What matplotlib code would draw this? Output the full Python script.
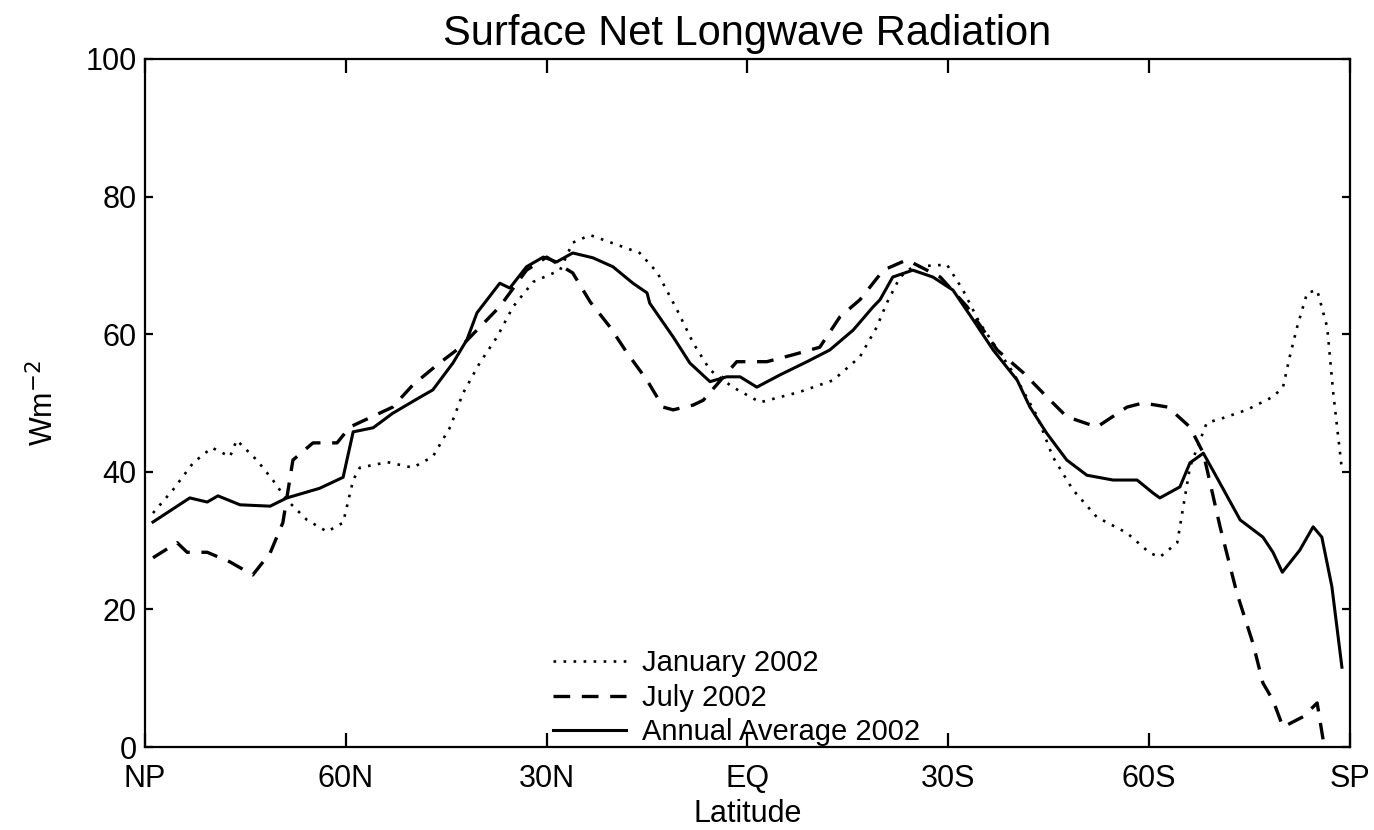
import matplotlib
matplotlib.use("Agg")
import matplotlib.pyplot as plt
import numpy as np

plt.rcParams['font.family'] = ['Liberation Sans', 'DejaVu Sans']

# Latitud (grados, + norte / - sur) y flujo neto de onda larga (W m-2)
lat_annual = [88.8, 83.3, 80.7, 79.1, 75.8, 71.3, 68.8, 63.9, 60.4, 58.9, 55.9, 53.0,
              49.5, 47.0, 44.0, 41.9, 40.4, 37.0, 35.5, 33.0, 30.5, 28.5, 26.1, 23.1,
              20.1, 17.1, 15.0, 14.6, 11.1, 8.6, 5.6, 3.1, 1.1, -1.4, -4.9, -8.9,
              -12.3, -15.8, -18.8, -19.8, -21.7, -24.7, -27.7, -30.7, -33.7, -36.7,
              -40.3, -42.2, -44.7, -47.7, -50.7, -54.6, -58.2, -60.6, -61.6, -64.6,
              -66.1, -68.1, -70.1, -73.6, -77.0, -78.5, -79.9, -82.5, -84.5, -85.8,
              -87.3, -88.8]
val_annual = [32.7, 36.2, 35.6, 36.5, 35.2, 35.0, 36.2, 37.6, 39.2, 45.8, 46.4, 48.5,
              50.5, 51.9, 55.8, 59.2, 63.1, 67.4, 66.7, 69.8, 71.2, 70.5, 71.8, 71.1,
              69.8, 67.4, 66.0, 64.5, 59.6, 55.8, 53.1, 53.8, 53.8, 52.3, 54.1, 56.0,
              57.7, 60.6, 64.0, 65.0, 68.3, 69.3, 68.3, 66.4, 62.1, 57.7, 53.3, 49.4,
              45.6, 41.7, 39.5, 38.8, 38.8, 36.9, 36.2, 37.8, 41.3, 42.7, 39.2, 33.0,
              30.5, 28.3, 25.4, 28.6, 32.0, 30.5, 23.3, 11.6]

lat_july = [88.8, 85.2, 83.7, 80.7, 77.3, 73.9, 71.3, 69.4, 67.9, 64.9, 61.3, 59.4,
            53.0, 50.0, 46.4, 42.9, 40.4, 37.0, 33.0, 30.0, 26.1, 23.5, 20.5, 18.0,
            15.0, 12.6, 11.1, 8.1, 6.6, 1.6, -2.9, -6.8, -10.8, -13.8, -16.8, -20.3,
            -23.8, -28.8, -32.8, -37.3, -41.2, -44.7, -47.7, -52.2, -56.7, -59.1,
            -62.8, -66.1, -68.1, -70.6, -73.1, -75.5, -77.0, -78.5, -80.0, -83.0,
            -85.1, -86.0, -86.6]
val_july = [27.5, 29.7, 28.3, 28.3, 26.9, 25.0, 28.2, 32.6, 41.7, 44.2, 44.2, 46.5,
            49.4, 52.6, 55.5, 58.1, 60.6, 64.0, 69.3, 71.2, 68.9, 64.7, 61.0, 57.3,
            53.3, 49.4, 49.0, 49.7, 50.4, 56.0, 56.0, 57.0, 58.1, 62.5, 65.0, 69.3,
            70.8, 68.3, 64.0, 57.7, 54.4, 50.9, 48.0, 46.5, 49.4, 50.0, 49.4, 46.5,
            42.7, 32.0, 22.4, 15.1, 9.3, 6.8, 2.9, 4.4, 6.4, 1.0, -3.0]

lat_jan = [88.8, 85.8, 82.8, 80.0, 77.3, 76.3, 73.3, 70.9, 68.8, 65.8, 62.8, 60.4,
           58.9, 57.9, 53.8, 50.0, 47.0, 44.4, 42.5, 40.0, 37.4, 35.0, 32.0, 28.0,
           26.1, 23.5, 19.5, 16.1, 13.5, 10.5, 8.1, 5.6, 2.2, -1.9, -7.8, -12.8,
           -16.8, -19.3, -20.8, -22.8, -24.7, -29.8, -32.2, -34.7, -39.7, -43.3,
           -45.6, -48.6, -52.2, -56.7, -60.1, -61.6, -64.2, -65.1, -66.1, -68.6,
           -71.0, -74.6, -78.5, -80.0, -81.0, -82.1, -83.6, -85.1, -86.6, -87.5,
           -88.8]
val_jan = [34.0, 37.4, 41.3, 43.5, 42.2, 44.6, 41.7, 38.8, 35.9, 33.0, 31.3, 32.6,
           38.8, 40.6, 41.4, 40.6, 42.2, 46.5, 51.4, 55.8, 59.6, 64.0, 67.6, 69.3,
           73.3, 74.4, 73.0, 71.8, 69.0, 63.5, 58.7, 54.8, 52.3, 50.1, 51.6, 53.3,
           56.7, 61.0, 64.5, 68.3, 69.8, 70.1, 66.4, 61.6, 54.4, 48.0, 42.2, 37.4,
           33.4, 31.1, 28.2, 27.6, 29.7, 34.9, 40.7, 47.1, 47.8, 49.0, 50.9, 52.3,
           56.7, 61.0, 66.0, 66.4, 61.0, 51.5, 40.3]

tick_lat = [90, 60, 30, 0, -30, -60, -90]
tick_names = ['NP', '60N', '30N', 'EQ', '30S', '60S', 'SP']
y_ticks = [0, 20, 40, 60, 80, 100]

fig = plt.figure(figsize=(13.74, 8.30), dpi=100)
ax = fig.add_axes([0.1055, 0.1, 0.877, 0.829])

ax.plot(lat_jan, val_jan, color='black', lw=1.9, linestyle=(0, (1, 2.8)),
        label='January 2002')
ax.plot(lat_july, val_july, color='black', lw=2.4, linestyle=(0, (5, 3.5)),
        label='July 2002')
ax.plot(lat_annual, val_annual, color='black', lw=2.2, linestyle='-',
        label='Annual Average 2002')

ax.set_xlim(90, -90)
ax.set_ylim(0, 100)
ax.set_xticks(tick_lat)
ax.set_xticklabels(tick_names)
ax.set_yticks(y_ticks)

for s in ax.spines.values():
    s.set_linewidth(1.6)
ax.tick_params(axis='both', direction='in', top=True, right=True,
               labelsize=22, width=1.6)
ax.tick_params(axis='x', length=10, pad=12)
ax.tick_params(axis='y', length=6, pad=6)

ax.set_title('Surface Net Longwave Radiation', fontsize=30, pad=10)
ax.set_xlabel('Latitude', fontsize=22)
ax.xaxis.set_label_coords(0.5, -0.075)
ax.set_ylabel('Wm$^{-2}$', fontsize=22)
ax.yaxis.set_label_coords(-0.07, 0.5)

ax.legend(loc='upper left', bbox_to_anchor=(0.3386, 0.142), frameon=False,
          fontsize=21, handlelength=2.5, handletextpad=0.55, labelspacing=0.22,
          borderpad=0, borderaxespad=0)

fig.savefig('out.png', dpi=100)
